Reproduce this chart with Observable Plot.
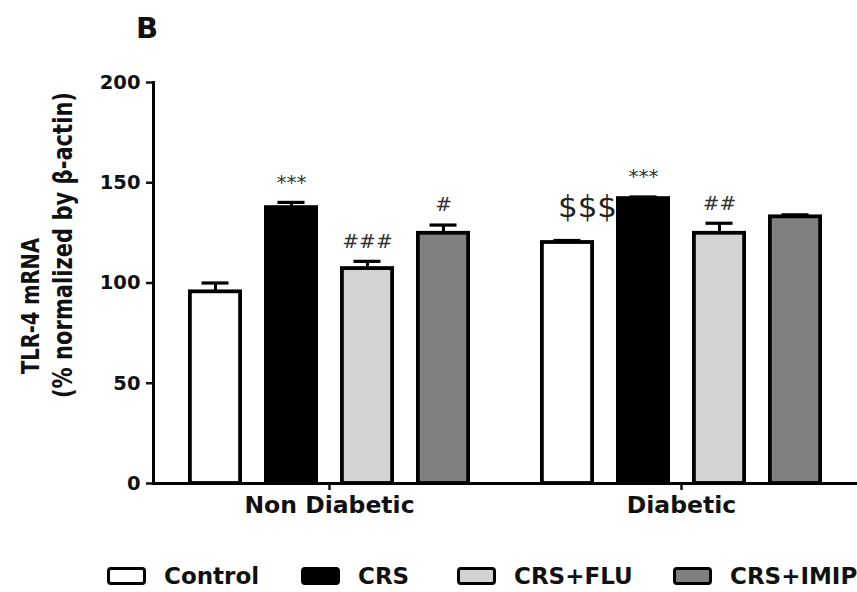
<!DOCTYPE html>
<html>
<head>
<meta charset="utf-8">
<script src="https://cdn.jsdelivr.net/npm/d3@7"></script>
<script src="https://cdn.jsdelivr.net/npm/@observablehq/plot@0.6"></script>
<style>
  html, body { margin: 0; padding: 0; background: #ffffff; }
  #wrap { position: relative; width: 857px; height: 592px; overflow: hidden; font-family: "DejaVu Sans", sans-serif; font-weight: bold; color: #111; }
  #chart { position: absolute; left: 0; top: 0; }
  .panel { position: absolute; left: 136px; top: 11px; font-size: 29px; }
  .ytitle { position: absolute; white-space: nowrap; transform-origin: center center; }
  #legend { position: absolute; left: 0; top: 563px; height: 26px; }
  .item { position: absolute; top: 0; display: flex; align-items: center; height: 26px; font-size: 23px; }
  .sw { width: 33px; height: 12px; border: 3.5px solid #000; border-radius: 4px; margin-right: 18px; box-sizing: content-box; }
</style>
</head>
<body>
<div id="wrap">
  <div id="chart"></div>
  <div class="panel">B</div>
  <div class="ytitle" style="left:30px; top:306px; font-size:25px; transform: translate(-50%, -50%) rotate(-90deg) scaleX(0.78);">TLR-4 mRNA</div>
  <div class="ytitle" style="left:62px; top:245px; font-size:27px; transform: translate(-50%, -50%) rotate(-90deg) scaleX(0.78);">(% normalized by β-actin)</div>
  <div id="legend"></div>
</div>
<script>
// ---- data ----
const groups = ["Non Diabetic", "Diabetic"];
const treatments = ["Control", "CRS", "CRS+FLU", "CRS+IMIP"];
const meanNonDiabetic = [95.6, 137.6, 107.2, 124.8];
const semNonDiabetic  = [4.4, 2.6, 3.6, 4.1];
const meanDiabetic    = [120.2, 142.1, 124.8, 133.0];
const semDiabetic     = [1.0, 0.8, 5.0, 1.0];
const marksNonDiabetic = ["", "***", "###", "#"];
const marksDiabetic    = ["$$$", "***", "##", ""];
const fillColors = ["#ffffff", "#000000", "#d3d3d3", "#808080"];
const yTicks = [0, 50, 100, 150, 200];
const legendLeft = [107, 301, 457, 673];

// ---- table built from the arrays ----
const rows = [];
treatments.forEach((t, i) => {
  rows.push({group: groups[0], treatment: t, mean: meanNonDiabetic[i], sem: semNonDiabetic[i], mark: marksNonDiabetic[i]});
});
treatments.forEach((t, i) => {
  rows.push({group: groups[1], treatment: t, mean: meanDiabetic[i], sem: semDiabetic[i], mark: marksDiabetic[i]});
});
const upper = d => d.mean + d.sem;
const small = rows.filter(d => d.mark && d.mark[0] !== "$");
const dollars = rows.filter(d => d.mark && d.mark[0] === "$");

const chart = Plot.plot({
  width: 857,
  height: 530,
  marginTop: 82,
  marginBottom: 47,
  marginLeft: 153,
  marginRight: 0,
  style: {fontFamily: "DejaVu Sans, sans-serif", background: "transparent", color: "#111"},
  fx: {domain: groups, paddingInner: 0, paddingOuter: 0, label: null},
  x: {domain: treatments, paddingInner: 0.285, paddingOuter: 0.4575, axis: null},
  y: {domain: [0, 200], label: null},
  color: {domain: treatments, range: fillColors},
  marks: [
    Plot.barY(rows, {fx: "group", x: "treatment", y: "mean", fill: "treatment", stroke: "#000", strokeWidth: 3.8, insetLeft: 1.9, insetRight: 1.9}),
    Plot.ruleX(rows, {fx: "group", x: "treatment", y1: "mean", y2: upper, stroke: "#000", strokeWidth: 3}),
    Plot.tickY(rows, {fx: "group", x: "treatment", y: upper, stroke: "#000", strokeWidth: 3.2, insetLeft: 13.5, insetRight: 13.5}),
    Plot.text(small, {fx: "group", x: "treatment", y: upper, text: "mark", dy: -20, fontSize: 20, fontWeight: "normal", fill: "#333"}),
    Plot.text(dollars, {fx: "group", x: "treatment", y: upper, text: "mark", dx: 20, dy: -33, fontSize: 31, fontWeight: "normal", fill: "#222"}),
    Plot.ruleY([0], {stroke: "#000", strokeWidth: 3}),
    Plot.frame({anchor: "left", facetAnchor: "left", stroke: "#000", strokeWidth: 3}),
    Plot.axisY({ticks: yTicks, tickSize: 7, tickPadding: 6, strokeWidth: 2.5, fontSize: 19.5, fontWeight: "bold", label: null, tickFormat: d => String(d), fill: "#111"}),
    Plot.axisFx({anchor: "bottom", tickSize: 7, tickPadding: 6, strokeWidth: 2.5, fontSize: 23.5, fontWeight: "bold", label: null, fill: "#111"})
  ]
});
document.getElementById("chart").appendChild(chart);

// legend from the same arrays
const legend = document.getElementById("legend");
treatments.forEach((t, i) => {
  const item = document.createElement("div");
  item.className = "item";
  item.style.left = legendLeft[i] + "px";
  const sw = document.createElement("div");
  sw.className = "sw";
  sw.style.background = fillColors[i];
  const lab = document.createElement("span");
  lab.textContent = t;
  item.appendChild(sw);
  item.appendChild(lab);
  legend.appendChild(item);
});
</script>
</body>
</html>
